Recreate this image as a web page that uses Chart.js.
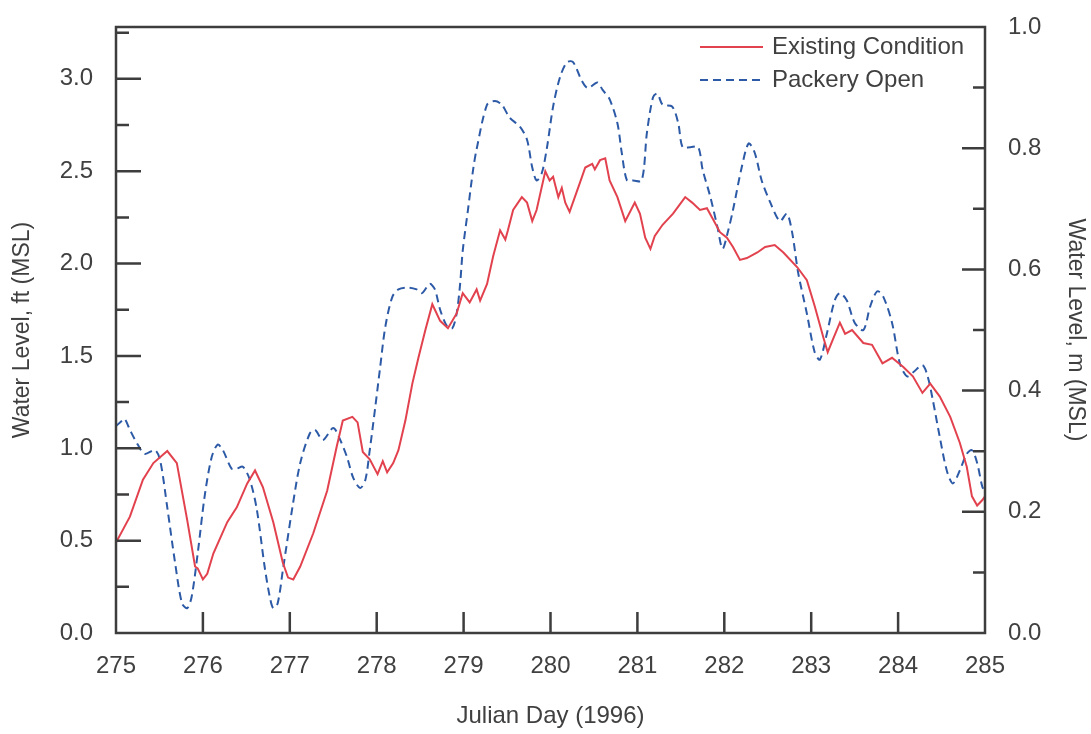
<!DOCTYPE html>
<html>
<head>
<meta charset="utf-8">
<script src="https://cdn.jsdelivr.net/npm/chart.js@4"></script>
<style>
  html, body { margin: 0; padding: 0; background: #fff; }
  canvas { display: block; }
</style>
</head>
<body>
<canvas id="level-chart" width="1091" height="734"></canvas>
<script>
// tick values
const dayTicks = [275, 276, 277, 278, 279, 280, 281, 282, 283, 284, 285];
const ftTicks = [0, 0.5, 1.0, 1.5, 2.0, 2.5, 3.0];
const ftMinorTicks = [0.25, 0.75, 1.25, 1.75, 2.25, 2.75, 3.25];
const mTicks = [0, 0.2, 0.4, 0.6, 0.8, 1.0];
const mMinorTicks = [0.1, 0.3, 0.5, 0.7, 0.9];

// Existing Condition (ft)
const existingDays = [275.00,275.16,275.31,275.43,275.59,275.70,275.82,275.91,275.94,276.00,
	276.05,276.12,276.28,276.39,276.51,276.60,276.69,276.81,276.92,276.98,
	277.04,277.12,277.27,277.43,277.54,277.61,277.72,277.78,277.84,277.92,
	278.01,278.07,278.12,278.19,278.25,278.33,278.41,278.48,278.56,278.64,
	278.73,278.82,278.92,278.99,279.07,279.15,279.19,279.27,279.34,279.42,
	279.48,279.51,279.57,279.67,279.73,279.79,279.84,279.94,279.99,280.03,
	280.09,280.13,280.17,280.22,280.34,280.40,280.48,280.51,280.57,280.63,
	280.68,280.77,280.86,280.97,281.03,281.09,281.15,281.20,281.29,281.41,
	281.55,281.63,281.72,281.80,281.87,281.95,282.03,282.10,282.18,282.26,
	282.38,282.47,282.58,282.68,282.84,282.95,283.04,283.14,283.19,283.25,
	283.33,283.39,283.47,283.60,283.70,283.82,283.93,284.06,284.17,284.28,
	284.37,284.48,284.60,284.71,284.79,284.85,284.91,284.97,285.00];
const existingFt = [0.49,0.63,0.83,0.92,0.985,0.92,0.61,0.36,0.35,0.29,
	0.32,0.43,0.60,0.68,0.81,0.88,0.79,0.60,0.38,0.30,
	0.29,0.36,0.54,0.77,1.01,1.15,1.17,1.14,0.98,0.94,
	0.86,0.93,0.87,0.92,0.99,1.15,1.35,1.49,1.64,1.78,
	1.69,1.65,1.73,1.84,1.79,1.86,1.80,1.89,2.04,2.18,
	2.13,2.18,2.29,2.36,2.33,2.23,2.29,2.50,2.45,2.47,
	2.36,2.41,2.33,2.28,2.44,2.52,2.54,2.51,2.56,2.57,
	2.45,2.36,2.23,2.33,2.27,2.14,2.08,2.15,2.21,2.27,
	2.36,2.33,2.29,2.30,2.24,2.17,2.14,2.09,2.02,2.03,
	2.06,2.09,2.10,2.06,1.98,1.91,1.77,1.60,1.52,1.59,
	1.68,1.62,1.64,1.57,1.56,1.46,1.49,1.44,1.39,1.30,
	1.35,1.28,1.17,1.03,0.90,0.74,0.69,0.72,0.74];

// Packery Open (ft)
const packeryDays = [275.00,275.07,275.10,275.16,275.25,275.33,275.45,275.51,275.59,275.68,
	275.76,275.82,275.87,275.94,276.02,276.10,276.17,276.23,276.33,276.39,
	276.46,276.54,276.62,276.71,276.77,276.81,276.86,276.92,277.03,277.12,
	277.23,277.29,277.38,277.50,277.58,277.66,277.73,277.81,277.87,277.92,
	277.98,278.04,278.10,278.18,278.25,278.36,278.46,278.52,278.61,278.67,
	278.73,278.81,278.87,278.92,278.96,278.99,279.05,279.11,279.15,279.27,
	279.36,279.44,279.53,279.65,279.73,279.79,279.84,279.90,279.96,280.03,
	280.11,280.19,280.26,280.36,280.43,280.54,280.60,280.68,280.77,280.82,
	280.88,280.95,281.05,281.11,281.18,281.23,281.29,281.40,281.47,281.52,
	281.61,281.70,281.75,281.84,281.92,281.98,282.04,282.10,282.20,282.28,
	282.35,282.43,282.53,282.64,282.72,282.78,282.85,282.95,283.04,283.10,
	283.18,283.27,283.33,283.41,283.50,283.60,283.68,283.76,283.83,283.93,
	284.02,284.10,284.17,284.28,284.34,284.40,284.48,284.56,284.63,284.71,
	284.79,284.85,284.91,284.97,285.00];
const packeryFt = [1.12,1.15,1.16,1.10,1.02,0.97,0.99,0.93,0.68,0.38,
	0.16,0.135,0.195,0.43,0.74,0.95,1.02,0.99,0.89,0.89,
	0.90,0.83,0.67,0.36,0.195,0.135,0.16,0.34,0.68,0.92,
	1.08,1.10,1.045,1.11,1.045,0.95,0.84,0.785,0.83,0.99,
	1.21,1.44,1.66,1.82,1.86,1.87,1.86,1.84,1.89,1.86,
	1.75,1.66,1.65,1.73,1.89,2.07,2.29,2.51,2.62,2.86,
	2.88,2.86,2.79,2.74,2.67,2.52,2.45,2.49,2.63,2.85,
	3.01,3.09,3.09,2.99,2.95,2.98,2.94,2.89,2.76,2.60,
	2.45,2.45,2.45,2.71,2.90,2.92,2.86,2.85,2.76,2.63,
	2.63,2.63,2.51,2.36,2.20,2.08,2.17,2.29,2.52,2.65,
	2.60,2.45,2.33,2.23,2.27,2.17,1.95,1.73,1.52,1.48,
	1.62,1.80,1.84,1.80,1.68,1.64,1.77,1.85,1.82,1.68,
	1.46,1.39,1.41,1.45,1.39,1.26,1.06,0.88,0.81,0.88,
	0.97,0.99,0.92,0.79,0.77];

const FT_PER_M = 3.2808;
const axisColor = '#3d3d3d';
const textColor = '#404040';
const fontFamily = '"Liberation Sans", Arial, Helvetica, sans-serif';

function toPoints(days, vals) {
	return days.map((d, i) => ({ x: d, y: vals[i] }));
}

function setTicks(list) {
	return function(scale) {
		scale.ticks = list.map(v => ({ value: v }));
	};
}

function fixWidth(w) {
	return function(scale) {
		scale.width = w;
		scale.paddingTop = 0;
		scale.paddingBottom = 0;
	};
}

// frame, inward tick marks and legend
const framePlugin = {
	id: 'frame',
	afterDraw(chart) {
		const c = chart.ctx;
		const area = chart.chartArea;
		const xs = chart.scales.x;
		const ys = chart.scales.y;
		const ys2 = chart.scales.y2;
		c.save();
		c.strokeStyle = axisColor;
		c.lineWidth = 2.5;
		c.setLineDash([]);
		c.strokeRect(area.left, area.top, area.right - area.left, area.bottom - area.top);

		c.beginPath();
		dayTicks.slice(1, -1).forEach(v => {
			const px = xs.getPixelForValue(v);
			c.moveTo(px, area.bottom);
			c.lineTo(px, area.bottom - 21);
		});
		ftTicks.slice(1).forEach(v => {
			const py = ys.getPixelForValue(v);
			c.moveTo(area.left, py);
			c.lineTo(area.left + 25, py);
		});
		ftMinorTicks.forEach(v => {
			const py = ys.getPixelForValue(v);
			c.moveTo(area.left, py);
			c.lineTo(area.left + 13, py);
		});
		mTicks.slice(1, -1).forEach(v => {
			const py = ys2.getPixelForValue(v);
			c.moveTo(area.right, py);
			c.lineTo(area.right - 23, py);
		});
		mMinorTicks.forEach(v => {
			const py = ys2.getPixelForValue(v);
			c.moveTo(area.right, py);
			c.lineTo(area.right - 12, py);
		});
		c.stroke();

		// legend
		c.font = '24px ' + fontFamily;
		c.textBaseline = 'middle';
		c.textAlign = 'left';
		chart.data.datasets.forEach((ds, i) => {
			const y = area.top + 20 + i * 33;
			const x0 = area.right - 285;
			c.strokeStyle = ds.borderColor;
			c.lineWidth = ds.borderWidth;
			c.setLineDash(ds.borderDash || []);
			c.beginPath();
			c.moveTo(x0, y);
			c.lineTo(x0 + 63, y);
			c.stroke();
			c.fillStyle = textColor;
			c.fillText(ds.label, x0 + 72, y);
		});
		c.restore();
	}
};

const ctx = document.getElementById('level-chart').getContext('2d');

const data = {
	datasets: [{
		label: 'Existing Condition',
		data: toPoints(existingDays, existingFt),
		borderColor: '#e2424e',
		borderWidth: 2,
		pointRadius: 0,
		tension: 0,
		yAxisID: 'y',
	}, {
		label: 'Packery Open',
		data: toPoints(packeryDays, packeryFt),
		borderColor: '#2d5aa6',
		borderWidth: 2,
		borderDash: [8, 5],
		pointRadius: 0,
		tension: 0.3,
		yAxisID: 'y',
	}],
};

const options = {
	responsive: false,
	animation: false,
	layout: { padding: { top: 27, left: 0, right: 0, bottom: 0 } },
	plugins: {
		legend: { display: false },
		tooltip: { enabled: false },
	},
	scales: {
		x: {
			type: 'linear',
			position: 'bottom',
			min: 275,
			max: 285,
			afterBuildTicks: setTicks(dayTicks),
			afterFit: (scale) => { scale.height = 101; },
			grid: { display: false, drawTicks: false },
			border: { display: false },
			ticks: {
				padding: 19,
				color: textColor,
				font: { family: fontFamily, size: 24 },
				callback: (v) => String(v),
			},
			title: {
				display: true,
				text: 'Julian Day (1996)',
				color: textColor,
				font: { family: fontFamily, size: 24 },
				padding: { top: 0, bottom: 3 },
			},
		},
		y: {
			type: 'linear',
			position: 'left',
			min: 0,
			max: FT_PER_M,
			afterBuildTicks: setTicks(ftTicks),
			afterFit: fixWidth(116),
			grid: { display: false, drawTicks: false },
			border: { display: false },
			ticks: {
				padding: 23,
				color: textColor,
				font: { family: fontFamily, size: 24 },
				callback: (v) => v.toFixed(1),
			},
			title: {
				display: true,
				text: 'Water Level, ft (MSL)',
				color: textColor,
				font: { family: fontFamily, size: 23 },
				padding: { top: 9, bottom: 0 },
			},
		},
		y2: {
			type: 'linear',
			position: 'right',
			display: true,
			min: 0,
			max: 1.0,
			afterBuildTicks: setTicks(mTicks),
			afterFit: fixWidth(106),
			grid: { display: false, drawTicks: false },
			border: { display: false },
			ticks: {
				padding: 23,
				color: textColor,
				font: { family: fontFamily, size: 24 },
				callback: (v) => v.toFixed(1),
			},
			title: {
				display: true,
				text: 'Water Level, m (MSL)',
				color: textColor,
				font: { family: fontFamily, size: 23 },
				padding: { top: 2, bottom: 0 },
			},
		},
	},
};

new Chart(ctx, {
	type: 'line',
	data: data,
	options: options,
	plugins: [framePlugin],
});
</script>
</body>
</html>
